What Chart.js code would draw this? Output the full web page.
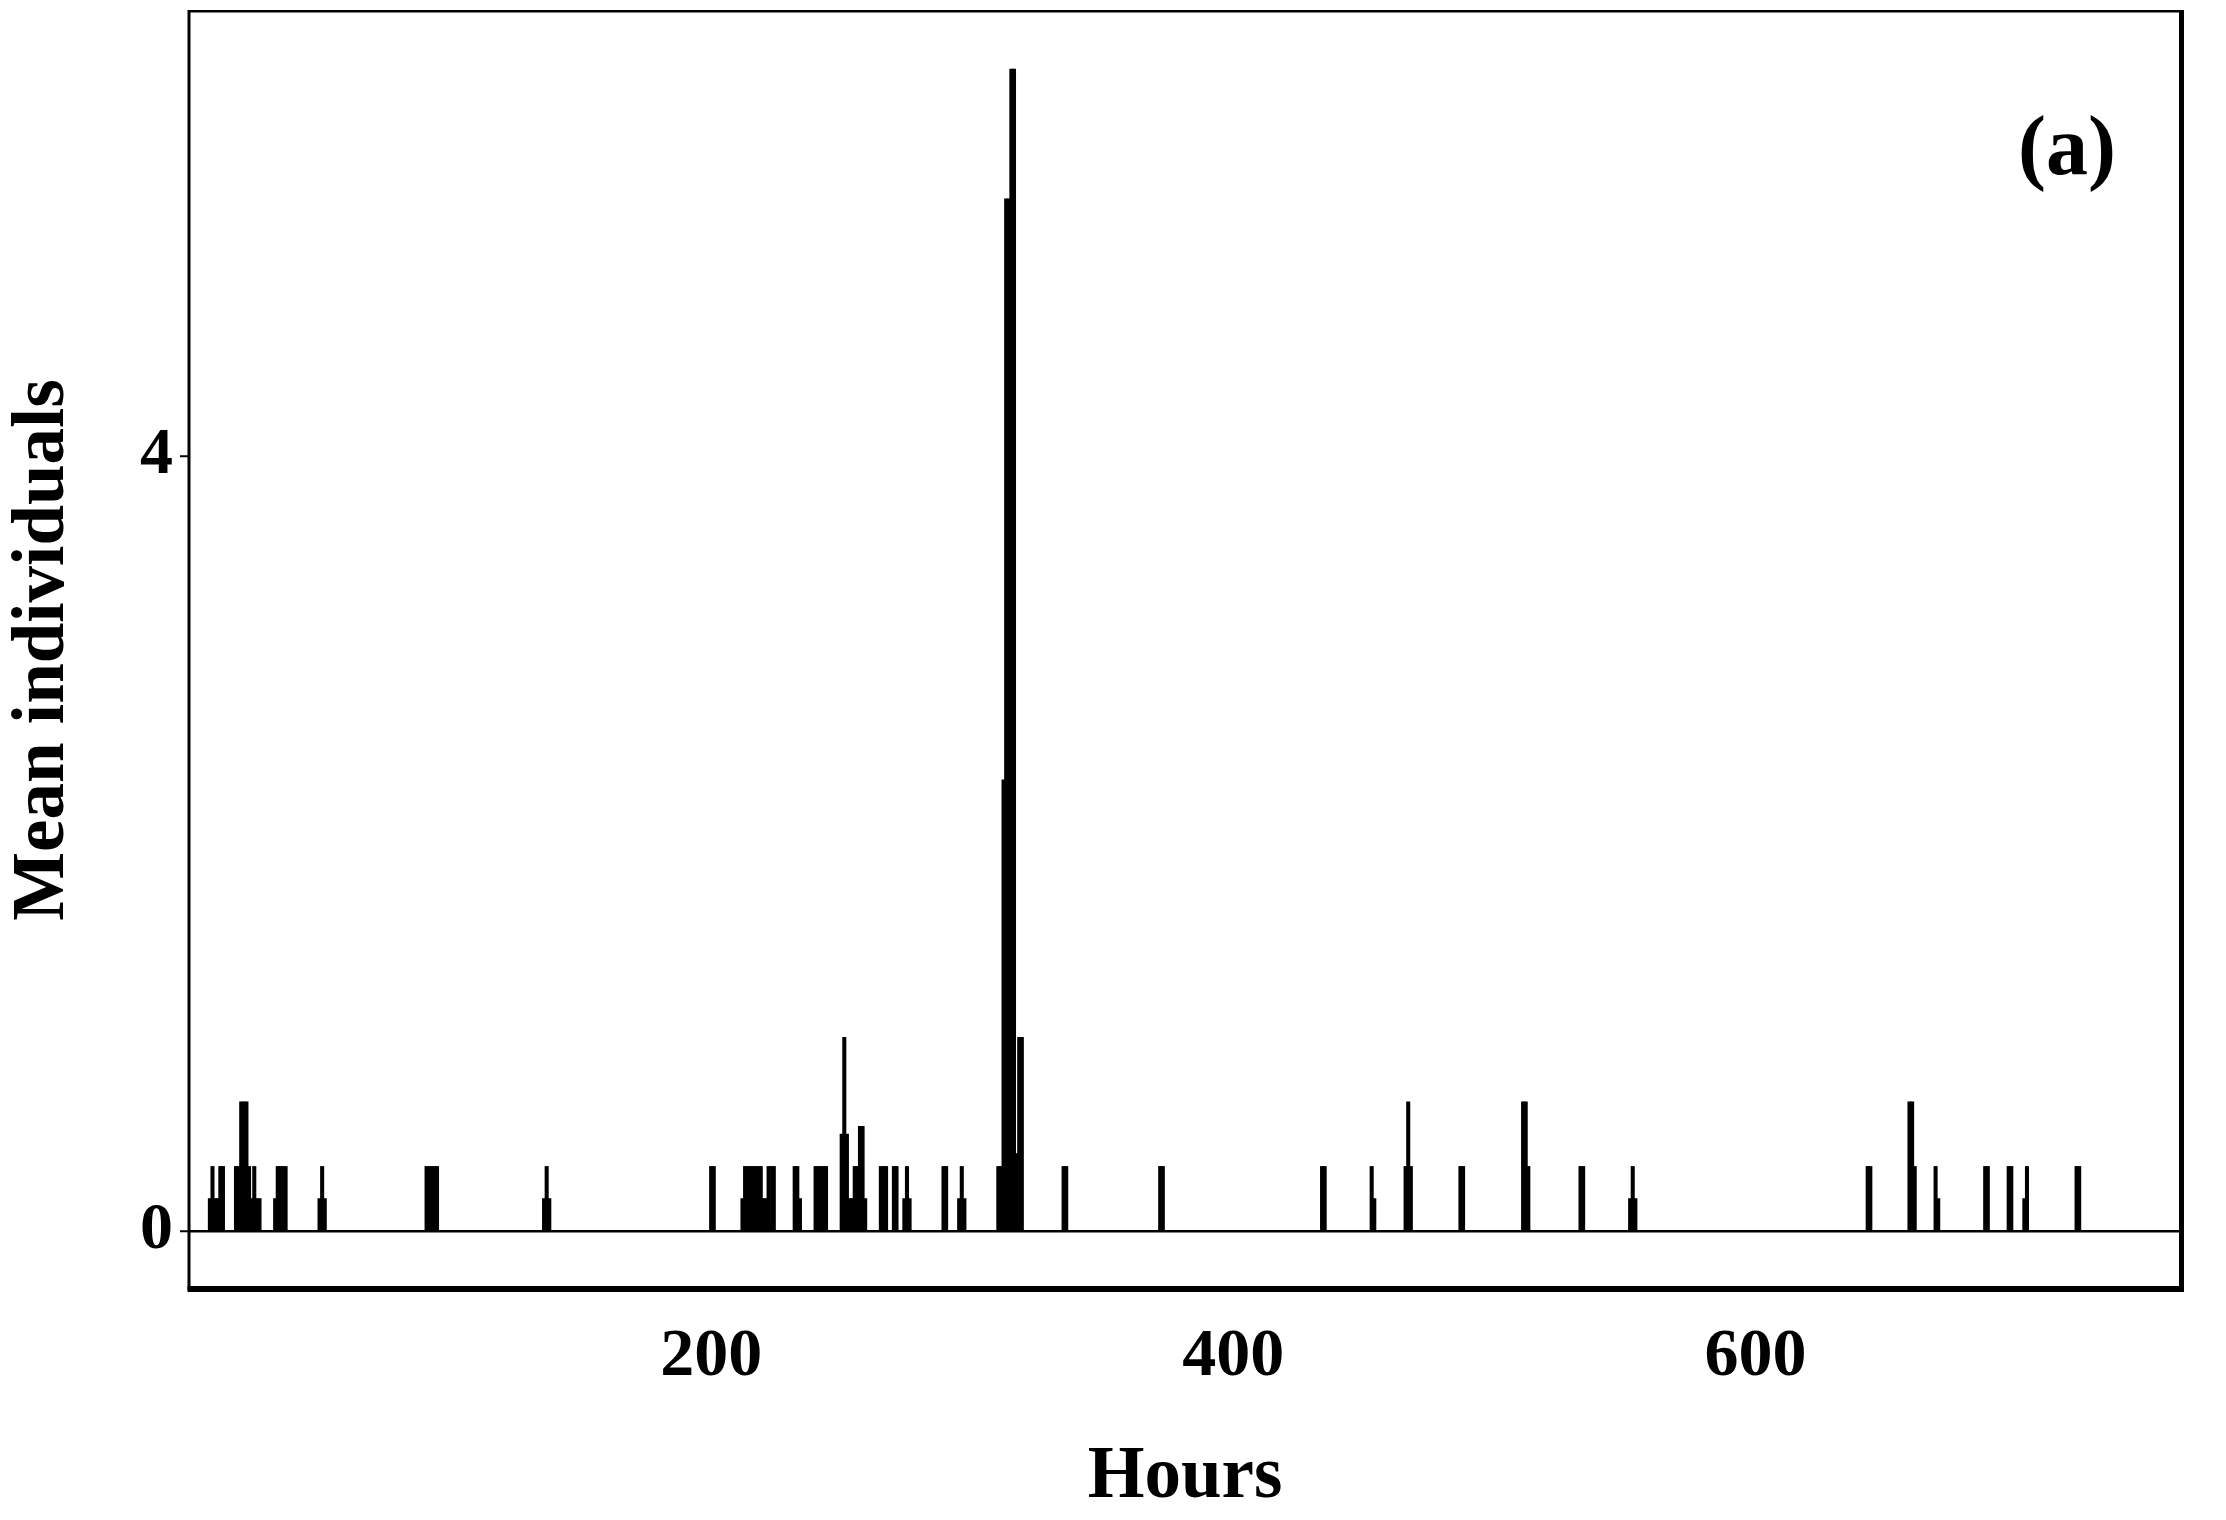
<!DOCTYPE html>
<html>
<head>
<meta charset="utf-8">
<title>Mean individuals per hour</title>
<script src="https://cdn.jsdelivr.net/npm/chart.js@4.4.1/dist/chart.umd.min.js"></script>
<style>
  html, body { margin: 0; padding: 0; background: #fff; }
  #wrap { width: 2226px; height: 1520px; }
</style>
</head>
<body>
<div id="wrap"><canvas id="chart"></canvas></div>
<script>
// hour of the record and the mean number of individuals seen in it
const hours = [
  8, 9, 10, 11, 12, 13,
  18, 19, 20, 21, 22, 23, 24, 25, 26, 27,
  33, 34, 35, 36, 37,
  50, 51, 52,
  91, 92, 93, 94, 95,
  136, 137, 138,
  200, 201,
  212, 213, 214, 215, 216, 217, 218, 219, 220, 221, 222, 223, 224,
  232, 233, 234,
  240, 241, 242, 243, 244,
  250, 251, 252, 253, 254, 255, 256, 257, 258, 259,
  265, 266, 267,
  270, 271,
  274, 275, 276,
  289, 290,
  295, 296, 297,
  310, 311, 312, 313, 314, 315, 316, 317, 318, 319,
  335, 336,
  372, 373,
  434, 435,
  453, 454,
  466, 467, 468,
  487, 488,
  511, 512, 513,
  533, 534,
  552, 553, 554,
  643, 644,
  659, 660, 661,
  669, 670,
  688, 689,
  697, 698,
  703, 704,
  723, 724
]
const meanIndividuals = [
  0.167, 0.333, 0.167, 0.167, 0.333, 0.333,
  0.333, 0.333, 0.667, 0.667, 0.667, 0.333, 0.167, 0.333, 0.167, 0.167,
  0.167, 0.333, 0.333, 0.333, 0.333,
  0.167, 0.333, 0.167,
  0.333, 0.333, 0.333, 0.333, 0.333,
  0.167, 0.333, 0.167,
  0.333, 0.333,
  0.167, 0.333, 0.333, 0.333, 0.333, 0.333, 0.333, 0.333, 0.167, 0.167, 0.333, 0.333, 0.333,
  0.333, 0.333, 0.167,
  0.333, 0.333, 0.333, 0.333, 0.333,
  0.5, 1, 0.5, 0.167, 0.167, 0.333, 0.333, 0.54, 0.54, 0.167,
  0.333, 0.333, 0.333,
  0.333, 0.333,
  0.167, 0.333, 0.167,
  0.333, 0.333,
  0.167, 0.333, 0.167,
  0.333, 0.333, 2.33, 5.33, 5.33, 6, 6, 0.4, 1, 1,
  0.333, 0.333,
  0.333, 0.333,
  0.333, 0.333,
  0.333, 0.167,
  0.333, 0.667, 0.333,
  0.333, 0.333,
  0.667, 0.667, 0.333,
  0.333, 0.333,
  0.167, 0.333, 0.167,
  0.333, 0.333,
  0.667, 0.667, 0.333,
  0.333, 0.167,
  0.333, 0.333,
  0.333, 0.333,
  0.167, 0.333,
  0.333, 0.333
]
const xTicks = [200, 400, 600]
const yTicks = [0, 4]
const panelLabel = '(a)'

const serif = "'Liberation Serif', 'Times New Roman', serif"

// thick plot frame like the original figure, plus the panel letter
const framePlugin = {
  id: 'frame',
  afterDatasetsDraw(chart) {
    const { ctx, chartArea } = chart
    const { left, right, top, bottom } = chartArea
    ctx.save()
    ctx.fillStyle = '#000'
    ctx.fillRect(left - 1, top - 1, right - left, 2.5)
    ctx.fillRect(left - 1.5, top - 1, 3, bottom - top + 2)
    ctx.fillRect(right - 2, top - 1, 5, bottom - top + 4)
    ctx.fillRect(left - 1.5, bottom - 3, right - left + 4.5, 6)

    ctx.font = 'bold 84px ' + serif
    ctx.textAlign = 'center'
    ctx.textBaseline = 'middle'
    ctx.fillText(panelLabel, right - 114, top + 141)
    ctx.restore()
  }
}

// keep the plot box where the original has it
function noEdgePadding(scale) {
  scale.paddingTop = 0
  scale.paddingBottom = 0
  scale.paddingLeft = 0
  scale.paddingRight = 0
}

const points = hours.map((h, i) => ({ x: h, y: meanIndividuals[i] }))

new Chart(document.getElementById('chart').getContext('2d'), {
  type: 'bar',
  data: {
    datasets: [{
      data: points,
      backgroundColor: '#000',
      borderWidth: 0,
      barThickness: 3.4
    }]
  },
  plugins: [framePlugin],
  options: {
    responsive: true,
    maintainAspectRatio: false,
    animation: false,
    layout: {
      padding: { top: 11, right: 45, bottom: 0, left: 0 }
    },
    plugins: {
      legend: { display: false },
      tooltip: { enabled: false }
    },
    scales: {
      x: {
        type: 'linear',
        offset: false,
        min: 0,
        max: 763,
        afterBuildTicks: scale => {
          scale.ticks = xTicks.map(v => ({ value: v }))
        },
        afterFit: scale => {
          scale.height = 231
          noEdgePadding(scale)
        },
        grid: { display: false, drawTicks: false, offset: false },
        border: { display: false },
        ticks: {
          color: '#000',
          padding: 28,
          maxRotation: 0,
          font: { family: serif, size: 68, weight: 'bold' }
        },
        title: {
          display: true,
          text: 'Hours',
          color: '#000',
          padding: { top: 0, bottom: 5 },
          font: { family: serif, size: 73, weight: 'bold', lineHeight: 1 }
        }
      },
      y: {
        min: -0.3,
        max: 6.3,
        afterBuildTicks: scale => {
          scale.ticks = yTicks.map(v => ({ value: v }))
        },
        afterFit: scale => {
          scale.width = 189
          noEdgePadding(scale)
        },
        grid: {
          color: ctx => (ctx.tick && ctx.tick.value === 0 ? '#000' : 'rgba(0,0,0,0)'),
          lineWidth: 2.5,
          drawTicks: true,
          tickLength: 9,
          tickColor: '#000',
          tickWidth: 2
        },
        border: { display: false },
        ticks: {
          color: '#000',
          padding: 7,
          font: { family: serif, size: 66, weight: 'bold' }
        },
        title: {
          display: true,
          text: 'Mean individuals',
          color: '#000',
          padding: { top: 8, bottom: 0 },
          font: { family: serif, size: 73, weight: 'bold', lineHeight: 1 }
        }
      }
    }
  }
})
</script>
</body>
</html>
